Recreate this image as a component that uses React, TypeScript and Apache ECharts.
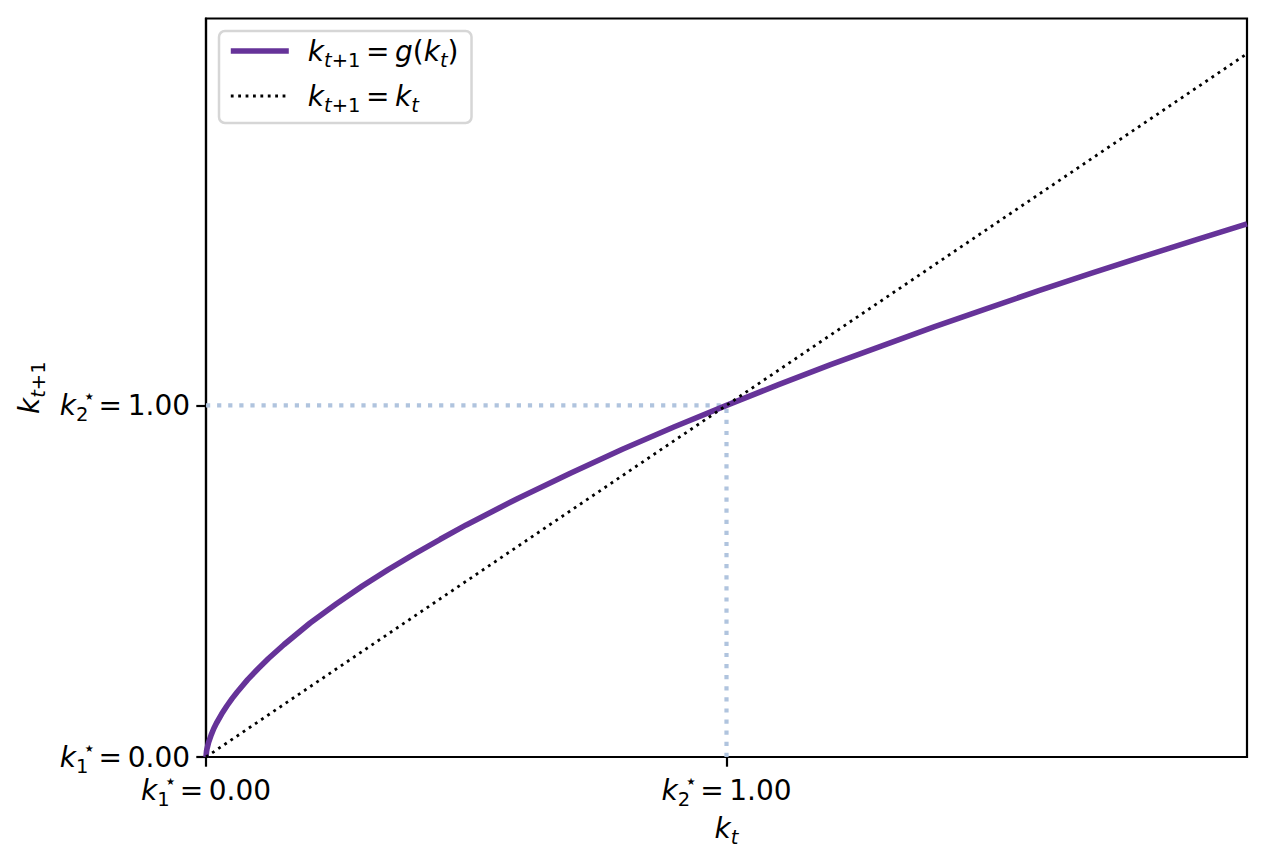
import React, { useEffect, useRef } from "react";
import * as echarts from "echarts";

// k_t grid and g(k_t) values
const kValues = [0, 0.001, 0.002, 0.005, 0.01, 0.015, 0.02, 0.03, 0.04, 0.05, 0.06, 0.08, 0.1, 0.12, 0.15, 0.2, 0.25, 0.3, 0.35, 0.4, 0.45, 0.5, 0.6, 0.7, 0.8, 0.9, 1.0, 1.1, 1.2, 1.3, 1.4, 1.5, 1.6, 1.7, 1.8, 1.9, 2.0];
const gValues = [0, 0.016, 0.024, 0.042, 0.063, 0.081, 0.096, 0.122, 0.145, 0.166, 0.185, 0.22, 0.251, 0.28, 0.32, 0.381, 0.435, 0.486, 0.533, 0.577, 0.619, 0.66, 0.736, 0.807, 0.875, 0.939, 1.0, 1.059, 1.116, 1.17, 1.224, 1.275, 1.326, 1.375, 1.423, 1.47, 1.516];
const identityK = [0, 2];
const steadyStates = [0, 1];
const steadyLabels = ["0.00", "1.00"];
const steadySubs = ["1", "2"];
const xRange = [0, 2];
const yRange = [0, 2.1];

const FONT = "DejaVu Sans";
const PURPLE = "#663399";
const GUIDE = "#b0c4de";

const rich: any = {
  k: { fontFamily: FONT, fontSize: 28, fontStyle: "italic", lineHeight: 38, color: "#000", align: "left" },
  t: { fontFamily: FONT, fontSize: 28, lineHeight: 38, color: "#000", align: "left" },
  si: { fontFamily: FONT, fontSize: 19.5, fontStyle: "italic", lineHeight: 20, verticalAlign: "bottom", color: "#000", align: "left" },
  su: { fontFamily: FONT, fontSize: 19.5, lineHeight: 20, verticalAlign: "bottom", color: "#000", align: "left" },
  sw: { fontFamily: FONT, fontSize: 19.5, lineHeight: 20, verticalAlign: "bottom", width: 7, color: "#000", align: "left" },
  st: { fontFamily: FONT, fontSize: 20, lineHeight: 20, verticalAlign: "top", width: 10, color: "#000", align: "left" },
  gap: { width: 14, fontSize: 10, lineHeight: 10, align: "left" },
};

const tickLabel = (v: number) => {
  const i = steadyStates.indexOf(Math.round(v * 1000) / 1000);
  if (i < 0) return "";
  return `{k|k}{sw|${steadySubs[i]}}{st|⋆}{t|\u2009=\u2009${steadyLabels[i]}}`;
};

const legendLabels: Record<string, string> = {
  g: "{gap| }{k|k}{si|t}{su|+1}{t|\u2009=\u2009}{k|g}{t|(}{k|k}{si|t}{t|)}",
  id: "{gap| }{k|k}{si|t}{su|+1}{t|\u2009=\u2009}{k|k}{si|t}",
};

export default function App() {
  const ref = useRef<HTMLDivElement>(null);
  useEffect(() => {
    document.body.style.margin = "0";
    if (!ref.current) return;
    const chart = echarts.init(ref.current, null, { renderer: "svg" });
    const kStar = steadyStates[1];
    chart.setOption({
      animation: false,
      backgroundColor: "#fff",
      grid: {
        left: 206,
        top: 18.5,
        width: 1041,
        height: 738.5,
        show: true,
        borderColor: "#000",
        borderWidth: 2.2,
        backgroundColor: "transparent",
        containLabel: false,
      },
      xAxis: {
        type: "value",
        min: xRange[0],
        max: xRange[1],
        interval: 1,
        splitLine: { show: false },
        axisLine: { show: true, lineStyle: { color: "#000", width: 2.2 } },
        axisTick: { show: true, length: 9.7, lineStyle: { color: "#000", width: 2.2 }, customValues: steadyStates },
        axisLabel: { show: true, margin: 14, formatter: tickLabel, customValues: steadyStates, rich },
        name: "{k|k}{si|t}",
        nameLocation: "middle",
        nameGap: 52,
        nameTextStyle: { rich },
      },
      yAxis: {
        type: "value",
        min: yRange[0],
        max: yRange[1],
        interval: 1,
        splitLine: { show: false },
        axisLine: { show: true, lineStyle: { color: "#000", width: 2.2 } },
        axisTick: { show: true, length: 9.7, lineStyle: { color: "#000", width: 2.2 }, customValues: steadyStates },
        axisLabel: { show: true, margin: 16, formatter: tickLabel, customValues: steadyStates, rich },
        name: "{k|k}{si|t}{su|+1}",
        nameLocation: "middle",
        nameRotate: 90,
        nameGap: 131,
        nameTextStyle: { rich },
      },
      legend: {
        orient: "vertical",
        left: 219,
        top: 31,
        data: ["g", "id"],
        formatter: (name: string) => legendLabels[name],
        itemWidth: 58,
        itemHeight: 14,
        itemGap: 12,
        padding: [6, 13, 8, 9],
        borderColor: "#d6d6d6",
        borderWidth: 2.5,
        borderRadius: 6,
        backgroundColor: "rgba(255,255,255,0.8)",
        textStyle: { rich },
        itemStyle: { opacity: 0 },
        lineStyle: { width: "inherit", type: "inherit", cap: "butt" },
        z: 10,
      },
      series: [
        {
          name: "guideH",
          type: "line",
          symbol: "none",
          data: [[steadyStates[0], kStar], [kStar, kStar]],
          lineStyle: { color: GUIDE, width: 4.2, type: [4.2, 6.9], cap: "butt" },
          z: 1,
        },
        {
          name: "guideV",
          type: "line",
          symbol: "none",
          data: [[kStar, steadyStates[0]], [kStar, kStar]],
          lineStyle: { color: GUIDE, width: 4.2, type: [4.2, 6.9], cap: "butt" },
          z: 1,
        },
        {
          name: "g",
          type: "line",
          symbol: "none",
          smooth: false,
          data: kValues.map((k, i) => [k, gValues[i]]),
          lineStyle: { color: PURPLE, width: 5.6 },
          itemStyle: { color: PURPLE },
          z: 2,
        },
        {
          name: "id",
          type: "line",
          symbol: "none",
          data: identityK.map((k) => [k, k]),
          lineStyle: { color: "#000", width: 2.8, type: [2.8, 4.6], cap: "butt" },
          itemStyle: { color: "#000" },
          z: 3,
        },
      ],
    });
    return () => chart.dispose();
  }, []);
  return <div ref={ref} style={{ width: 1266, height: 865 }} />;
}
